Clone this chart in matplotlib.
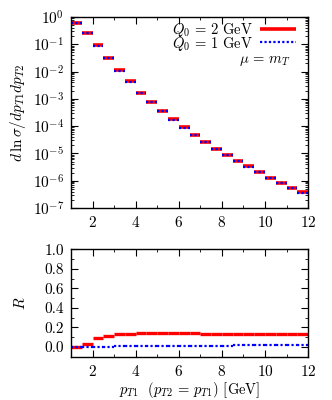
import numpy as np
import matplotlib
matplotlib.use("Agg")
import matplotlib.pyplot as plt
from matplotlib.ticker import MultipleLocator, LogLocator, NullFormatter

plt.rcParams['font.family'] = 'serif'
plt.rcParams['font.serif'] = ['cmr10']
plt.rcParams['mathtext.fontset'] = 'cm'
plt.rcParams['axes.formatter.use_mathtext'] = True
plt.rcParams['font.size'] = 11

# bin edges in p_T1 [GeV]
bin_lo = np.arange(1.0, 12.0, 0.5)
bin_hi = bin_lo + 0.5

# d ln sigma / dpT1 dpT2, Q0 = 2 GeV
xs_q2 = [0.62, 0.27, 0.092, 0.032, 0.011, 0.0044, 0.0017, 7.8e-4, 3.6e-4, 1.8e-4, 9.1e-5,
         4.8e-5, 2.6e-5, 1.5e-5, 8.9e-6, 5.4e-6, 3.4e-6, 2.1e-6, 1.3e-6, 8.5e-7, 5.6e-7, 3.8e-7]
# Q0 = 1 GeV
xs_q1 = [0.60, 0.265, 0.089, 0.031, 0.0107, 0.0043, 0.00165, 7.6e-4, 3.5e-4, 1.75e-4, 8.8e-5,
         4.65e-5, 2.52e-5, 1.45e-5, 8.6e-6, 5.2e-6, 3.3e-6, 2.03e-6, 1.26e-6, 8.2e-7, 5.4e-7, 3.65e-7]

# ratio R
r_q2 = [0.005, 0.03, 0.088, 0.115, 0.13, 0.137, 0.14, 0.141, 0.141, 0.14, 0.14,
        0.139, 0.138, 0.137, 0.136, 0.135, 0.134, 0.133, 0.132, 0.131, 0.13, 0.13]
r_q1 = [0.0, 0.002, 0.004, 0.005, 0.006, 0.007, 0.008, 0.009, 0.010, 0.011, 0.012,
        0.012, 0.013, 0.014, 0.015, 0.016, 0.017, 0.018, 0.019, 0.020, 0.021, 0.022]

red = '#ff0000'
blue = '#0000ff'

fig = plt.figure(figsize=(3.32, 4.0), dpi=100)
ax1 = fig.add_axes([0.214, 0.48, 0.714, 0.4775])
ax2 = fig.add_axes([0.214, 0.108, 0.714, 0.269])

ax1.hlines(xs_q2, bin_lo, bin_hi, color=red, lw=2.6, label=r'$Q_0 \,=\, 2$ GeV')
ax1.hlines(xs_q1, bin_lo, bin_hi, color=blue, lw=1.6, linestyles=(0, (1, 1)),
           label=r'$Q_0 \,=\, 1$ GeV')
ax1.set_yscale('log')
ax1.set_xlim(1, 12)
ax1.set_ylim(1e-7, 1)
ax1.set_ylabel(r'$d\,\ln\sigma/dp_{T1}dp_{T2}$', fontsize=11)
ax1.yaxis.set_major_locator(LogLocator(base=10, numticks=10))
ax1.yaxis.set_minor_locator(LogLocator(base=10, subs=np.arange(2, 10), numticks=10))
ax1.yaxis.set_minor_formatter(NullFormatter())
leg = ax1.legend(loc='upper right', bbox_to_anchor=(0.975, 1.01), frameon=False,
                 markerfirst=False, handlelength=2.5, borderaxespad=0.0,
                 labelspacing=-0.3, handletextpad=0.5, fontsize=10.5)
ax1.text(0.925, 0.77, r'$\mu \,=\, m_T$', transform=ax1.transAxes, ha='right',
         va='center', fontsize=10.5)

ax2.hlines(r_q2, bin_lo, bin_hi, color=red, lw=2.4)
ax2.hlines(r_q1, bin_lo, bin_hi, color=blue, lw=1.6, linestyles=(0, (1, 1)))
ax2.set_xlim(1, 12)
ax2.set_ylim(-0.1, 1.0)
ax2.set_ylabel(r'$R$', fontsize=11)
ax2.set_xlabel(r'$p_{T1}\ \ (p_{T2} \,=\, p_{T1})$ [GeV]', fontsize=10.5, labelpad=1)
ax2.yaxis.set_major_locator(MultipleLocator(0.2))
ax2.yaxis.set_minor_locator(MultipleLocator(0.1))
ax2.yaxis.set_major_formatter(plt.FormatStrFormatter('%.1f'))

for ax in (ax1, ax2):
    ax.xaxis.set_major_locator(MultipleLocator(2))
    ax.xaxis.set_minor_locator(MultipleLocator(1))
    ax.tick_params(which='both', direction='in', top=True, right=True, labelsize=11)
    ax.tick_params(which='major', length=5, width=0.8, pad=5)
    ax.tick_params(which='minor', length=2.5, width=0.6)
    ax.yaxis.set_label_coords(-0.18, 0.5)
    for s in ax.spines.values():
        s.set_linewidth(1.0)

fig.savefig('out.png', dpi=100)
